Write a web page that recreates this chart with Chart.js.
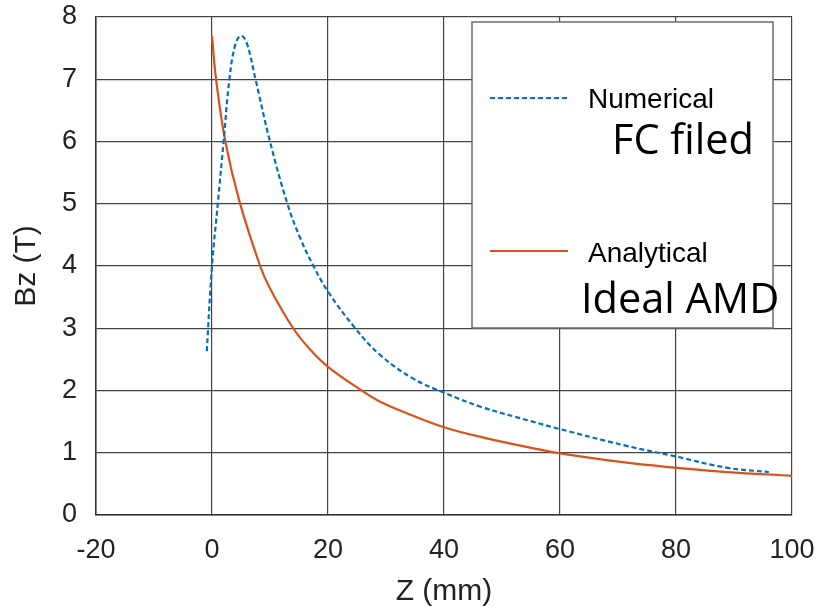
<!DOCTYPE html>
<html>
<head>
<meta charset="utf-8">
<script src="https://cdn.jsdelivr.net/npm/chart.js@4.4.1/dist/chart.umd.min.js"></script>
<style>
  html, body { margin: 0; padding: 0; background: #fff; }
  #wrap { width: 823px; height: 613px; }
</style>
</head>
<body>
<div id="wrap"><canvas id="bzChart" width="823" height="613"></canvas></div>
<script>
// values
const numZ  = [-0.9, 0, 1, 2, 3, 4, 5, 6, 7.5, 10, 13, 15.2, 17.5, 20, 24.7, 29, 34.7, 39.9, 46.3, 54.9, 60, 71.5, 80, 88.7, 96];
const numBz = [2.63, 4.0, 5.0, 6.0, 7.0, 7.55, 7.70, 7.58, 7.0, 6.0, 5.0, 4.45, 4.0, 3.59, 3.0, 2.57, 2.19, 1.97, 1.74, 1.51, 1.38, 1.11, 0.94, 0.76, 0.69];
const anaZ  = [0, 0.7, 2.3, 4.7, 8.3, 10, 14, 17, 20, 25.8, 29, 34, 40, 47, 56.6, 60, 71.5, 80, 88.7, 100];
const anaBz = [7.7, 7.0, 6.0, 5.05, 4.0, 3.64, 3.0, 2.65, 2.38, 2.0, 1.82, 1.62, 1.41, 1.24, 1.05, 0.99, 0.84, 0.76, 0.69, 0.63];
const xTicks = [-20, 0, 20, 40, 60, 80, 100];
const yTicks = [0, 1, 2, 3, 4, 5, 6, 7, 8];
const legendNames = ['Numerical', 'Analytical'];
const legendNotes = ['FC filed', 'Ideal AMD'];

const toXY = (xs, ys) => xs.map((x, i) => ({ x: x, y: ys[i] }));

// MATLAB-like boxed legend drawn on top of the grid
const boxLegend = {
  id: 'boxLegend',
  afterDraw(chart) {
    const c = chart.ctx;
    c.save();
    c.fillStyle = '#fff';
    c.fillRect(472, 22, 301, 306);
    c.strokeStyle = '#6b6b6b';
    c.lineWidth = 1.5;
    c.strokeRect(472, 22, 301, 306);
    const rows = [98, 251];
    chart.data.datasets.forEach((ds, i) => {
      c.beginPath();
      c.strokeStyle = ds.borderColor;
      c.lineWidth = ds.borderWidth;
      c.setLineDash(ds.borderDash || []);
      c.moveTo(490, rows[i]);
      c.lineTo(568, rows[i]);
      c.stroke();
    });
    c.setLineDash([]);
    c.fillStyle = '#000';
    c.textBaseline = 'alphabetic';
    c.font = '28px "Liberation Sans", Arial, sans-serif';
    c.fillText(legendNames[0], 588, 108);
    c.fillText(legendNames[1], 588, 262);
    c.font = '41.5px "Open Sans", sans-serif';
    c.fillText(legendNotes[0], 612, 154);
    c.fillText(legendNotes[1], 581, 313);
    c.restore();
  }
};

const ctx = document.getElementById('bzChart').getContext('2d');
const bzChart = new Chart(ctx, {
  type: 'line',
  data: {
    datasets: [{
      label: legendNames[0],
      data: toXY(numZ, numBz),
      borderColor: '#0072BD',
      borderWidth: 2.2,
      borderDash: [5, 3],
      pointRadius: 0,
      fill: false,
      tension: 0.4
    }, {
      label: legendNames[1],
      data: toXY(anaZ, anaBz),
      borderColor: '#D95319',
      borderWidth: 2.2,
      pointRadius: 0,
      fill: false,
      tension: 0.4
    }]
  },
  options: {
    responsive: false,
    animation: false,
    layout: { padding: { top: 17, right: 31, left: 0, bottom: 0 } },
    plugins: { legend: { display: false }, tooltip: { enabled: false } },
    scales: {
      x: {
        type: 'linear',
        min: -20, max: 100,
        afterBuildTicks: s => { s.ticks = xTicks.map(v => ({ value: v })); },
        afterFit: s => { s.height = 98; s.paddingLeft = 0; s.paddingRight = 0; },
        grid: { color: '#444', lineWidth: 1.2, drawTicks: false },
        border: { color: '#333', width: 1.5 },
        ticks: { color: '#222', padding: 19, maxRotation: 0, font: { family: '"Liberation Sans", Arial', size: 27 } },
        title: { display: true, text: 'Z (mm)', color: '#222', padding: { top: 0, bottom: 3 }, font: { family: '"Liberation Sans", Arial', size: 30 } }
      },
      y: {
        min: 0, max: 8,
        afterBuildTicks: s => { s.ticks = yTicks.map(v => ({ value: v })); },
        afterFit: s => { s.width = 96; s.paddingTop = 0; s.paddingBottom = 0; },
        grid: { color: '#444', lineWidth: 1.2, drawTicks: false },
        border: { color: '#333', width: 1.5 },
        ticks: { color: '#222', padding: 19, font: { family: '"Liberation Sans", Arial', size: 27 } },
        title: { display: true, text: 'Bz (T)', color: '#222', padding: { top: 9, bottom: 0 }, font: { family: '"Liberation Sans", Arial', size: 30 } }
      }
    }
  },
  plugins: [boxLegend]
});
</script>
</body>
</html>
